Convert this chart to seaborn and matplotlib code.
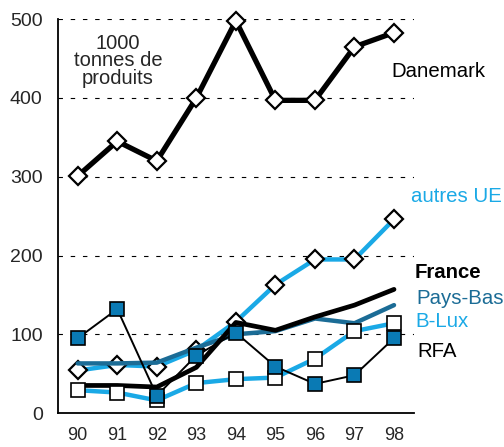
import matplotlib
matplotlib.use("Agg")
import matplotlib.pyplot as plt
import seaborn as sns
import numpy as np

years = ["90", "91", "92", "93", "94", "95", "96", "97", "98"]
danemark = [301, 345, 320, 400, 498, 397, 397, 465, 483]
autres_ue = [54, 61, 59, 80, 116, 163, 195, 195, 246]
pays_bas = [63, 63, 64, 83, 100, 104, 120, 114, 137]
france = [35, 35, 33, 58, 115, 105, 122, 137, 157]
b_lux = [29, 26, 16, 38, 43, 45, 69, 104, 114]
rfa = [95, 132, 22, 73, 102, 59, 37, 48, 95]

LIGHT = "#1aa9e6"
DARK = "#1b6c96"
FILL = "#0a7ab4"

sns.set_style("white")
plt.rcParams["font.family"] = ["Liberation Sans", "DejaVu Sans"]

fig = plt.figure(figsize=(5.04, 4.47), dpi=100)
ax = fig.add_axes([0.115, 0.076, 0.706, 0.881])
x = np.arange(len(years))

sns.lineplot(x=x, y=danemark, ax=ax, color="black", linewidth=3.8, marker="D", clip_on=False,
             markersize=9, markerfacecolor="white", markeredgecolor="black", markeredgewidth=1.6)
sns.lineplot(x=x, y=autres_ue, ax=ax, color=LIGHT, linewidth=3.2, marker="D", clip_on=False,
             markersize=9, markerfacecolor="white", markeredgecolor="black", markeredgewidth=1.6)
sns.lineplot(x=x, y=pays_bas, ax=ax, color=DARK, linewidth=3.2, clip_on=False)
sns.lineplot(x=x, y=france, ax=ax, color="black", linewidth=3.4, clip_on=False)
sns.lineplot(x=x, y=b_lux, ax=ax, color=LIGHT, linewidth=3.2, marker="s", clip_on=False,
             markersize=10.5, markerfacecolor="white", markeredgecolor="black", markeredgewidth=1.2)
sns.lineplot(x=x, y=rfa, ax=ax, color="black", linewidth=1.4, marker="s", clip_on=False,
             markersize=10.5, markerfacecolor=FILL, markeredgecolor="black", markeredgewidth=1.2)

ax.set_xlim(-0.5, 8.5)
ax.set_ylim(0, 500)
ax.set_yticks([0, 100, 200, 300, 400, 500])
for v in [100, 200, 300, 400, 500]:
    ax.axhline(v, xmin=0, xmax=1, color="black", linestyle=(0, (4, 7)), linewidth=0.8, zorder=0)
ax.set_xticks(x)
ax.set_xticklabels(years)
ax.set_xticks(np.arange(-0.5, 9, 1), minor=True)
ax.tick_params(axis="x", which="major", length=0, pad=10, labelsize=13)
ax.tick_params(axis="x", which="minor", direction="in", length=5, width=1.2, color="black")
ax.tick_params(axis="y", length=0, pad=11, labelsize=14)

for side in ["top", "right"]:
    ax.spines[side].set_visible(False)
for side in ["left", "bottom"]:
    ax.spines[side].set_color("black")
    ax.spines[side].set_linewidth(1.3)

ax.text(1.02, 447, "1000\ntonnes de\nproduits", ha="center", va="center", fontsize=14.5, linespacing=0.92)

lab = dict(transform=ax.transData, clip_on=False, fontsize=14.7, ha="left", va="center")
ax.text(7.94, 434, "Danemark", color="black", **lab)
ax.text(8.42, 275, "autres UE", color=LIGHT, **lab)
ax.text(8.52, 178, "France", color="black", fontweight="bold", **lab)
ax.text(8.57, 145, "Pays-Bas", color=DARK, **lab)
ax.text(8.55, 116, "B-Lux", color=LIGHT, **lab)
ax.text(8.6, 78, "RFA", color="black", **lab)

fig.savefig("out.png", dpi=100)
